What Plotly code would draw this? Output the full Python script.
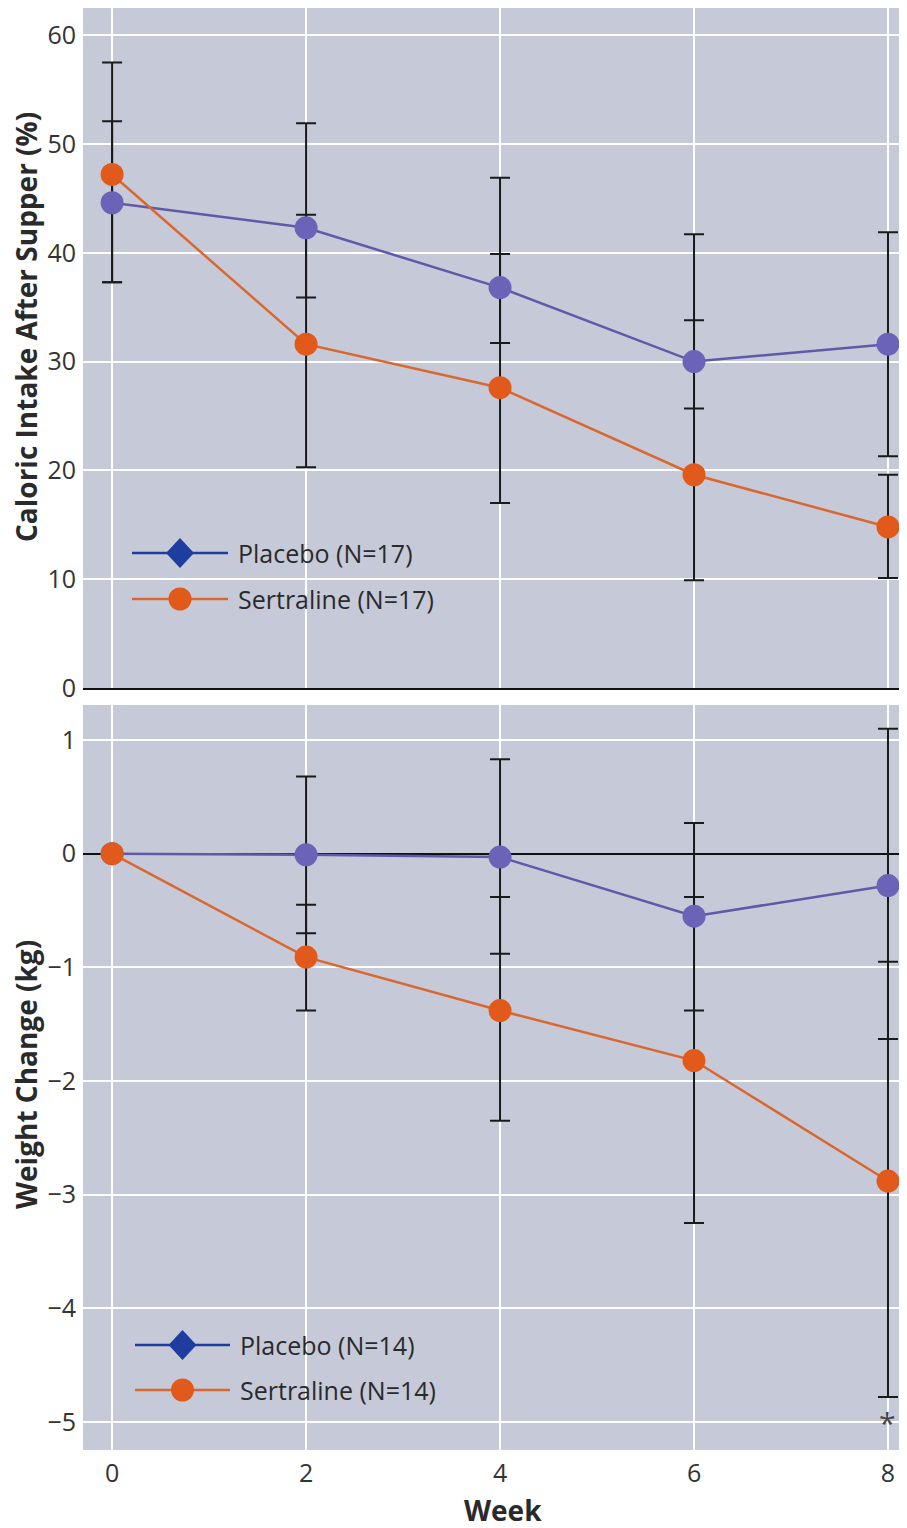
import plotly.graph_objects as go

# ---------------- data ----------------
weeks = [0, 2, 4, 6, 8]
week_ticks = [0, 2, 4, 6, 8]

# Top panel: caloric intake after supper (%)
cal_placebo = [44.6, 42.3, 36.8, 30.0, 31.6]
cal_placebo_hi = [52.1, 51.9, 46.9, 41.7, 41.9]
cal_placebo_lo = [37.3, 35.9, 31.7, 25.7, 21.3]
cal_sert = [47.2, 31.6, 27.6, 19.6, 14.8]
cal_sert_hi = [57.5, 43.5, 39.9, 33.8, 19.6]
cal_sert_lo = [37.3, 20.3, 17.0, 9.9, 10.1]
cal_ticks = [0, 10, 20, 30, 40, 50, 60]

# Bottom panel: weight change (kg)
wt_placebo = [0.0, -0.01, -0.03, -0.55, -0.28]
wt_placebo_hi = [0.0, 0.68, 0.83, 0.27, 1.10]
wt_placebo_lo = [0.0, -0.70, -0.88, -1.38, -1.63]
wt_sert = [0.0, -0.91, -1.38, -1.82, -2.88]
wt_sert_hi = [0.0, -0.45, -0.38, -0.38, -0.95]
wt_sert_lo = [0.0, -1.38, -2.35, -3.25, -4.78]
wt_ticks = [1, 0, -1, -2, -3, -4, -5]
wt_tick_labels = ["1", "0", "\u22121", "\u22122", "\u22123", "\u22124", "\u22125"]

legend_top = ["Placebo (N=17)", "Sertraline (N=17)"]
legend_bottom = ["Placebo (N=14)", "Sertraline (N=14)"]
star_week, star_value = 8, -5

# ---------------- style ----------------
OFF = 8  # page body margin
W, H = 907 - OFF, 1528 - OFF
ML, MR, MT, MB = 83 - OFF, 0, 8 - OFF, 78
BG = "#c6cad8"
FONT = "Open Sans"
TXT = "#333333"
PLAC_M, PLAC_L = "#6b63b8", "#5f59a8"
SERT_M, SERT_L = "#e25a1b", "#d9672f"
LEG_PLAC = "#1e3d9f"
ERR = "#1a1a1a"


def px2paper(x, y):
    """page pixel -> paper fraction"""
    x -= OFF
    y -= OFF
    return (x - ML) / (W - ML - MR), 1 - (y - MT) / (H - MT - MB)


def up(hi, mid):
    return [h - m for h, m in zip(hi, mid)]


def down(lo, mid):
    return [m - l for l, m in zip(lo, mid)]


fig = go.Figure()


def add_panel(xa, ya, plac, plac_hi, plac_lo, sert, sert_hi, sert_lo):
    # error bars first (behind all markers)
    for mid, hi, lo in ((plac, plac_hi, plac_lo), (sert, sert_hi, sert_lo)):
        fig.add_trace(go.Scatter(
            x=weeks, y=mid, mode="markers", xaxis=xa, yaxis=ya,
            marker=dict(size=1, opacity=0), showlegend=False, hoverinfo="skip",
            error_y=dict(type="data", symmetric=False, array=up(hi, mid),
                         arrayminus=down(lo, mid), color=ERR, thickness=2,
                         width=10)))
    fig.add_trace(go.Scatter(
        x=weeks, y=plac, mode="lines+markers", xaxis=xa, yaxis=ya,
        line=dict(color=PLAC_L, width=2.5),
        marker=dict(color=PLAC_M, size=23, symbol="circle"),
        showlegend=False, name="Placebo"))
    fig.add_trace(go.Scatter(
        x=weeks, y=sert, mode="lines+markers", xaxis=xa, yaxis=ya,
        line=dict(color=SERT_L, width=2.5),
        marker=dict(color=SERT_M, size=23, symbol="circle"),
        showlegend=False, name="Sertraline"))


add_panel("x", "y", cal_placebo, cal_placebo_hi, cal_placebo_lo,
          cal_sert, cal_sert_hi, cal_sert_lo)
add_panel("x2", "y2", wt_placebo, wt_placebo_hi, wt_placebo_lo,
          wt_sert, wt_sert_hi, wt_sert_lo)

shapes = []
annotations = []


def add_legend(labels, y_plac, y_sert, x0, x1, xtext):
    for i, (lab, yy) in enumerate(zip(labels, (y_plac, y_sert))):
        col = LEG_PLAC if i == 0 else SERT_L
        a0, b0 = px2paper(x0, yy)
        a1, _ = px2paper(x1, yy)
        shapes.append(dict(type="line", xref="paper", yref="paper",
                           x0=a0, x1=a1, y0=b0, y1=b0,
                           line=dict(color=col, width=2.5)))
        cx, cy = px2paper((x0 + x1) / 2, yy)
        if i == 0:
            shapes.append(dict(type="path", xref="paper", yref="paper",
                               xsizemode="pixel", ysizemode="pixel",
                               xanchor=cx, yanchor=cy,
                               path="M0,15 L14,0 L0,-15 L-14,0 Z",
                               fillcolor=LEG_PLAC, line=dict(width=0)))
        else:
            shapes.append(dict(type="circle", xref="paper", yref="paper",
                               xsizemode="pixel", ysizemode="pixel",
                               xanchor=cx, yanchor=cy,
                               x0=-11.5, x1=11.5, y0=-11.5, y1=11.5,
                               fillcolor=SERT_M, line=dict(width=0)))
        tx, ty = px2paper(xtext, yy)
        annotations.append(dict(text=lab, xref="paper", yref="paper",
                                x=tx, y=ty, xanchor="left", yanchor="middle",
                                showarrow=False,
                                font=dict(family=FONT, size=25, color="#2a2a2a")))


add_legend(legend_top, 553, 599, 132, 228, 236)
add_legend(legend_bottom, 1345, 1390, 135, 230, 238)

annotations.append(dict(text="*", x=star_week, y=star_value, xref="x2", yref="y2",
                        showarrow=False, yanchor="middle",
                        font=dict(family=FONT, size=30, color="#444444")))

# axis titles as annotations
annotations.append(dict(text="<b>Caloric Intake After Supper (%)</b>",
                        xref="paper", yref="paper",
                        x=px2paper(26, 0)[0], y=px2paper(0, 327)[1],
                        textangle=-90, showarrow=False,
                        xanchor="center", yanchor="middle",
                        font=dict(family=FONT, size=28, color="#2a2a2a")))
annotations.append(dict(text="<b>Weight Change (kg)</b>",
                        xref="paper", yref="paper",
                        x=px2paper(26, 0)[0], y=px2paper(0, 1075)[1],
                        textangle=-90, showarrow=False,
                        xanchor="center", yanchor="middle",
                        font=dict(family=FONT, size=28, color="#2a2a2a")))
annotations.append(dict(text="<b>Week</b>", xref="paper", yref="paper",
                        x=px2paper(503, 0)[0], y=px2paper(0, 1510)[1],
                        showarrow=False, xanchor="center", yanchor="middle",
                        font=dict(family=FONT, size=28, color="#2a2a2a")))

PH = H - MT - MB
top_dom = [1 - (688 - OFF - MT) / PH, 1]
bot_dom = [0, 1 - (705 - OFF - MT) / PH]
xr = [-0.30, 8.196]

tickfont = dict(family=FONT, size=25, color=TXT)

fig.update_layout(
    width=W, height=H,
    margin=dict(l=ML, r=MR, t=MT, b=MB, pad=0),
    paper_bgcolor="white", plot_bgcolor=BG,
    showlegend=False,
    shapes=shapes, annotations=annotations,
    xaxis=dict(domain=[0, 1], anchor="y", range=xr, tickvals=week_ticks,
               showticklabels=False, showgrid=True, gridcolor="white",
               gridwidth=2, zeroline=False, showline=True, linecolor="#111111",
               linewidth=2, ticks=""),
    yaxis=dict(domain=top_dom, anchor="x", range=[0, 62.5], tickvals=cal_ticks,
               showgrid=True, gridcolor="white", gridwidth=2, zeroline=False,
               tickfont=tickfont, ticks="", ticklabelstandoff=6),
    xaxis2=dict(domain=[0, 1], anchor="y2", range=xr, tickvals=week_ticks,
                showgrid=True, gridcolor="white", gridwidth=2, zeroline=False,
                tickfont=tickfont, ticks="", ticklabelstandoff=6),
    yaxis2=dict(domain=bot_dom, anchor="x2", range=[-5.246, 1.308],
                tickvals=wt_ticks, ticktext=wt_tick_labels,
                showgrid=True, gridcolor="white", gridwidth=2,
                zeroline=True, zerolinecolor="#111111", zerolinewidth=2,
                tickfont=tickfont, ticks="", ticklabelstandoff=6),
)

fig.write_html("out.html")
